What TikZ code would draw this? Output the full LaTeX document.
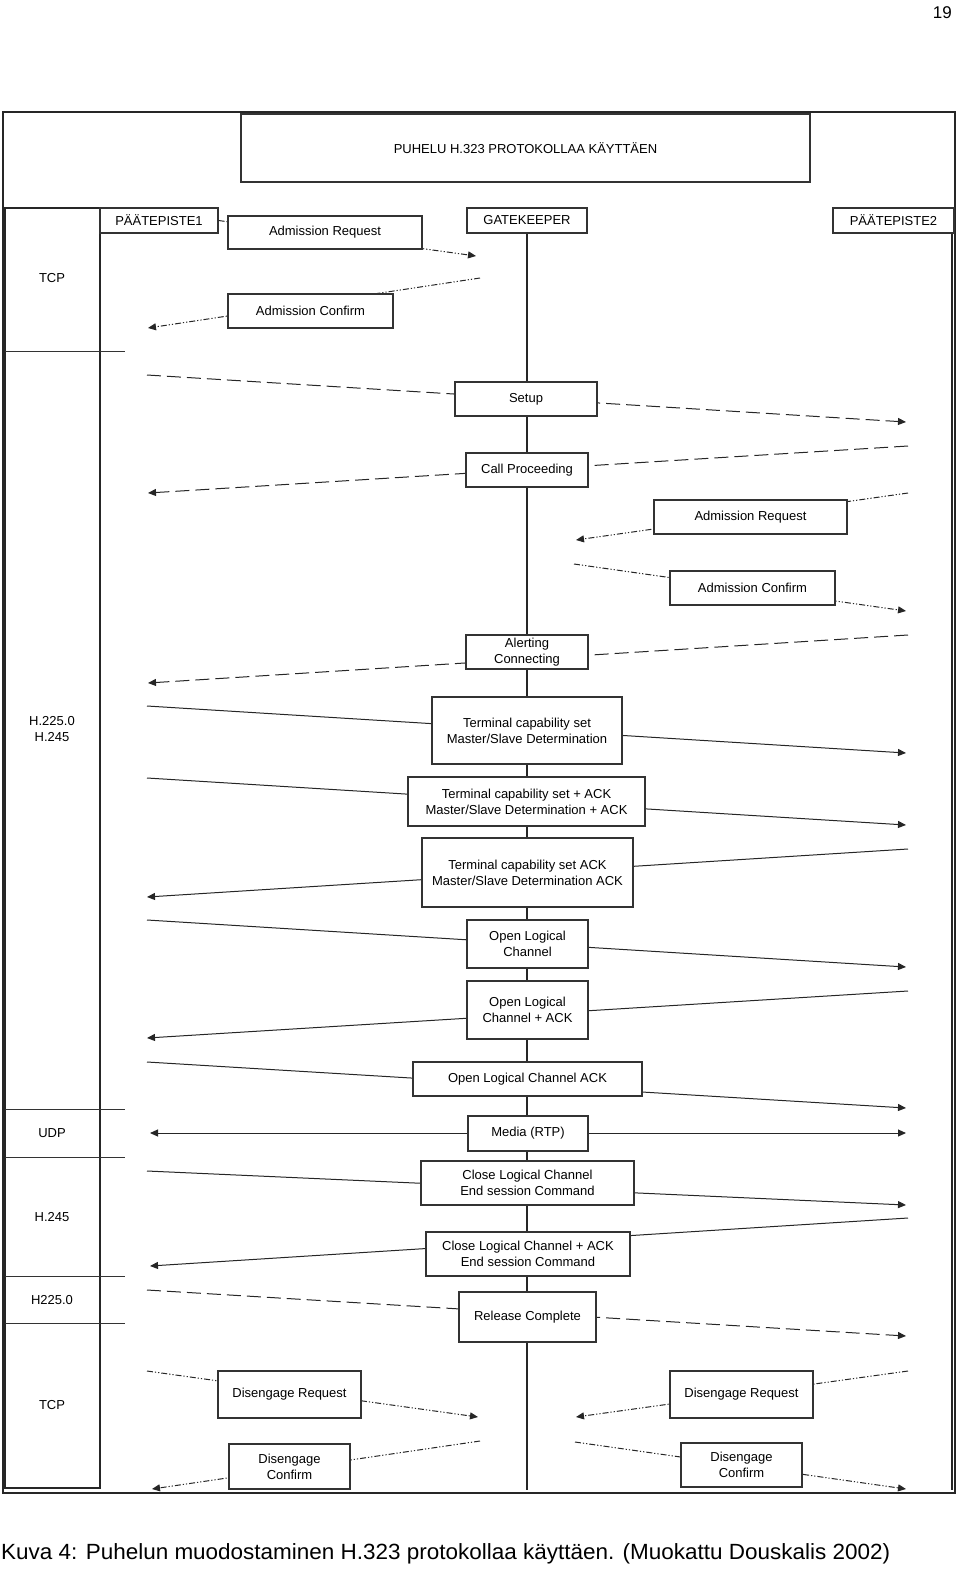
\documentclass[tikz,border=0pt]{standalone}
\usepackage{fontspec}
\usepackage{graphicx}
\setmainfont{Liberation Sans}
\usetikzlibrary{arrows.meta}
\begin{document}
\begin{tikzpicture}[x=1pt, y=-1pt,
  msgbox/.style={draw=black!80, line width=1.1pt, fill=white, inner sep=0pt, align=center, font=\fontsize{13}{16}\selectfont},
  lbl/.style={inner sep=0pt, align=center, font=\fontsize{13}{16}\selectfont},
  msg/.style={draw=black!85, line width=1pt, -{Triangle[length=8pt,width=7pt]}},
  ras/.style={msg, dash pattern=on 6pt off 2pt on 1.2pt off 2pt on 1.2pt off 2pt},
  qsig/.style={msg, dash pattern=on 14pt off 6pt}]
\useasboundingbox (0,0) rectangle (960,1574);
\node[anchor=base east, inner sep=0pt, font=\fontsize{17}{20}\selectfont] (page) at (952,18) {19};
%frame and protocol column
\draw[line width=1.5pt, draw=black!85] (3,112) rectangle (955,1493);
\draw[line width=1.2pt, draw=black!85] (5,208) rectangle (100,1488);
\foreach \y in {351,1109,1157,1276,1323}
  \draw[line width=1pt, draw=black!80] (5,\y) -- (125,\y);
\node[lbl] (L_tcp1) at (52,278) {TCP};
\node[lbl] (L_h225) at (52,729) {H.225.0\\H.245};
\node[lbl] (L_udp) at (52,1133) {UDP};
\node[lbl] (L_h245) at (52,1217) {H.245};
\node[lbl] (L_h2250) at (52,1300) {H225.0};
\node[lbl] (L_tcp2) at (52,1405) {TCP};
%headers
\node[msgbox, minimum width=569, minimum height=68] (T) at (525.5,148) {PUHELU H.323 PROTOKOLLAA KÄYTTÄEN};
\node[msgbox, minimum width=118, minimum height=25] (P1) at (159,220.5) {PÄÄTEPISTE1};
\node[msgbox, minimum width=120, minimum height=25] (GK) at (527,220.5) {GATEKEEPER};
\node[msgbox, minimum width=121, minimum height=25] (P2) at (893.5,220.5) {PÄÄTEPISTE2};
\coordinate (GK_end) at (527,1490);
\coordinate (P2_end) at (952,1490);
\draw[line width=1.2pt, draw=black!85] (GK) -- (GK_end);
\draw[line width=1.2pt, draw=black!85] (P2_end |- P2.south) -- (P2_end);
%admission
\coordinate (AR1_e) at (476,256);
\draw[ras] (P1.east) -- (AR1_e);
\node[msgbox, minimum width=194, minimum height=33] (AR1) at (325,232.5) {Admission Request};
\coordinate (AC1_s) at (480,278);
\coordinate (AC1_e) at (148,328);
\draw[ras] (AC1_s) -- (AC1_e);
\node[msgbox, minimum width=165, minimum height=34] (AC1) at (310.5,311) {Admission Confirm};
%setup
\coordinate (S_s) at (147,375);
\coordinate (S_e) at (906,422);
\draw[qsig] (S_s) -- (S_e);
\node[msgbox, minimum width=142, minimum height=34] (S) at (526,399) {Setup};
\coordinate (CP_s) at (908,446);
\coordinate (CP_e) at (148,493);
\draw[qsig] (CP_s) -- (CP_e);
\node[msgbox, minimum width=122, minimum height=34] (CP) at (527,470) {Call Proceeding};
\coordinate (AR2_s) at (908,493);
\coordinate (AR2_e) at (576,540);
\draw[ras] (AR2_s) -- (AR2_e);
\node[msgbox, minimum width=193, minimum height=34] (AR2) at (750.5,517) {Admission Request};
\coordinate (AC2_s) at (574,564);
\coordinate (AC2_e) at (906,611);
\draw[ras] (AC2_s) -- (AC2_e);
\node[msgbox, minimum width=165, minimum height=34] (AC2) at (752.5,588) {Admission Confirm};
\coordinate (AL_s) at (908,635);
\coordinate (AL_e) at (148,683);
\draw[qsig] (AL_s) -- (AL_e);
\node[msgbox, minimum width=122, minimum height=34] (AL) at (527,652) {Alerting\\Connecting};
%capability exchange
\coordinate (TC_s) at (147,706);
\coordinate (TC_e) at (906,753);
\draw[msg] (TC_s) -- (TC_e);
\node[msgbox, minimum width=190, minimum height=67] (TC) at (527,730.5) {Terminal capability set\\Master/Slave Determination};
\coordinate (TCA_s) at (147,778);
\coordinate (TCA_e) at (906,825);
\draw[msg] (TCA_s) -- (TCA_e);
\node[msgbox, minimum width=237, minimum height=49] (TCA) at (526.5,801.5) {Terminal capability set + ACK\\Master/Slave Determination + ACK};
\coordinate (TCK_s) at (908,849);
\coordinate (TCK_e) at (147,897);
\draw[msg] (TCK_s) -- (TCK_e);
\node[msgbox, minimum width=211, minimum height=69] (TCK) at (527.5,872.5) {Terminal capability set ACK\\Master/Slave Determination ACK};
%logical channels
\coordinate (OL_s) at (147,920);
\coordinate (OL_e) at (906,967);
\draw[msg] (OL_s) -- (OL_e);
\node[msgbox, minimum width=121, minimum height=48] (OL) at (527.5,944) {Open Logical\\Channel};
\coordinate (OLA_s) at (908,991);
\coordinate (OLA_e) at (147,1038);
\draw[msg] (OLA_s) -- (OLA_e);
\node[msgbox, minimum width=121, minimum height=58] (OLA) at (527.5,1010) {Open Logical\\Channel + ACK};
\coordinate (OLK_s) at (147,1062);
\coordinate (OLK_e) at (906,1108);
\draw[msg] (OLK_s) -- (OLK_e);
\node[msgbox, minimum width=229, minimum height=34] (OLK) at (527.5,1079) {Open Logical Channel ACK};
%media
\coordinate (M_s) at (150,1133);
\coordinate (M_e) at (906,1133);
\draw[msg, {Triangle[length=8pt,width=7pt]}-{Triangle[length=8pt,width=7pt]}] (M_s) -- (M_e);
\node[msgbox, minimum width=120, minimum height=35] (M) at (528,1133.5) {Media (RTP)};
%closing
\coordinate (CL_s) at (147,1171);
\coordinate (CL_e) at (906,1205);
\draw[msg] (CL_s) -- (CL_e);
\node[msgbox, minimum width=213, minimum height=44] (CL) at (527.5,1183) {Close Logical Channel\\End session Command};
\coordinate (CLA_s) at (908,1218);
\coordinate (CLA_e) at (150,1266);
\draw[msg] (CLA_s) -- (CLA_e);
\node[msgbox, minimum width=204, minimum height=44] (CLA) at (528,1254) {Close Logical Channel + ACK\\End session Command};
\coordinate (RC_s) at (147,1290);
\coordinate (RC_e) at (906,1336);
\draw[qsig] (RC_s) -- (RC_e);
\node[msgbox, minimum width=137, minimum height=50] (RC) at (527.5,1317) {Release Complete};
%disengage
\coordinate (DR1_s) at (147,1371);
\coordinate (DR1_e) at (478,1417);
\draw[ras] (DR1_s) -- (DR1_e);
\node[msgbox, minimum width=143, minimum height=47] (DR1) at (289.5,1394.5) {Disengage Request};
\coordinate (DC1_s) at (480,1441);
\coordinate (DC1_e) at (152,1489);
\draw[ras] (DC1_s) -- (DC1_e);
\node[msgbox, minimum width=121, minimum height=45] (DC1) at (289.5,1466.5) {Disengage\\Confirm};
\coordinate (DR2_s) at (908,1371);
\coordinate (DR2_e) at (576,1417);
\draw[ras] (DR2_s) -- (DR2_e);
\node[msgbox, minimum width=143, minimum height=47] (DR2) at (741.5,1394.5) {Disengage Request};
\coordinate (DC2_s) at (575,1442);
\coordinate (DC2_e) at (906,1489);
\draw[ras] (DC2_s) -- (DC2_e);
\node[msgbox, minimum width=121, minimum height=44] (DC2) at (741.5,1465) {Disengage\\Confirm};
%caption
\node[anchor=base west, inner sep=0pt, font=\fontsize{22}{26}\selectfont] (cap) at (1,1559)
  {\resizebox{889pt}{\height}{Kuva 4: Puhelun muodostaminen H.323 protokollaa käyttäen. (Muokattu Douskalis 2002)}};
\end{tikzpicture}
\end{document}
